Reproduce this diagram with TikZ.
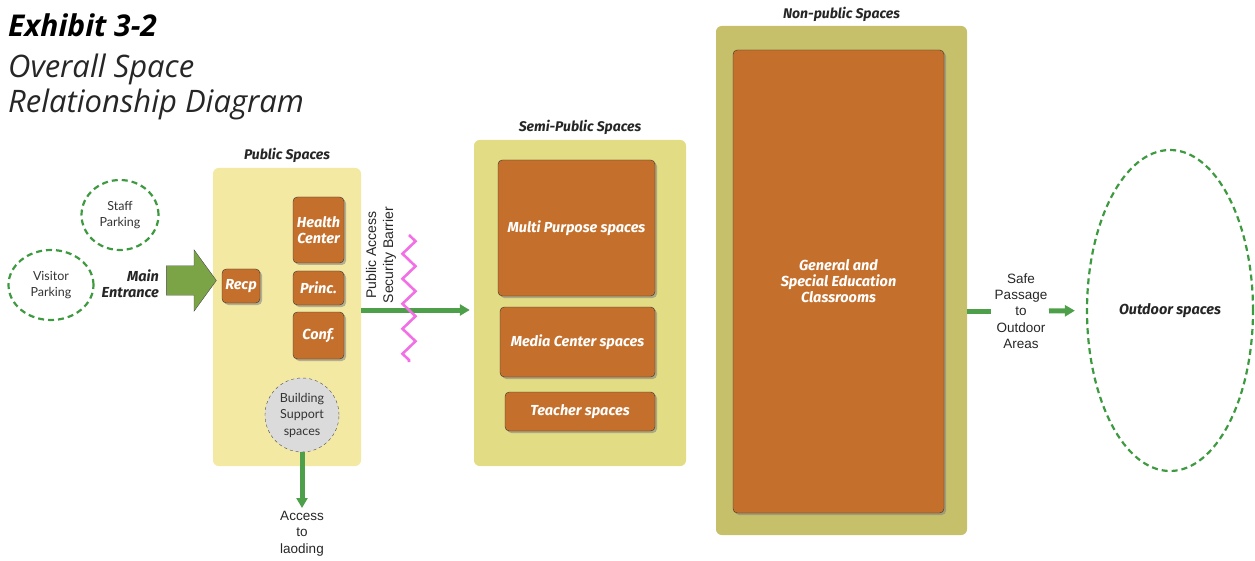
\documentclass[tikz,border=0pt]{standalone}
\usepackage{fontspec}
\setmainfont{Liberation Sans}
\newfontfamily\tagfont{Fira Sans}
\newfontfamily\softfont{Lato}
\newfontfamily\titlefont{Open Sans}
\usetikzlibrary{shapes,arrows.meta,positioning,shadows,decorations.pathmorphing}
\definecolor{ochre}{HTML}{C4702C}
\definecolor{pubfill}{HTML}{F3E9A3}
\definecolor{semifill}{HTML}{E2DC84}
\definecolor{nonfill}{HTML}{C6C06A}
\definecolor{walk}{HTML}{4E9F4A}
\definecolor{lot}{HTML}{3E9A40}
\definecolor{door}{HTML}{7BA446}
\definecolor{fence}{HTML}{F26FE6}
\tikzstyle{zone} = [fill,rounded corners=.2cm,inner sep=0]
\tikzstyle{room} = [draw=black!80,fill=ochre,rounded corners=.15cm,inner sep=0,text=white,align=center,
  font=\tagfont\bfseries\itshape\fontsize{14.5}{16}\selectfont,
  drop shadow={opacity=0.55,shadow xshift=2pt,shadow yshift=-2pt}]
\tikzstyle{caption} = [font=\tagfont\bfseries\itshape\fontsize{14}{16}\selectfont,text=black!85,inner sep=1pt]
\tikzstyle{lotspot} = [draw=lot,line width=2.2pt,dash pattern=on 6pt off 4pt,ellipse,inner sep=0,align=center,
  font=\softfont\fontsize{12.5}{16}\selectfont,text=black!80]
\tikzstyle{route} = [walk,line width=5pt]
\tikzstyle{note} = [font=\fontsize{13.5}{16.3}\selectfont,align=center,text=black!85,inner sep=0]

\begin{document}
\begin{tikzpicture}[x=1pt,y=-1pt]
  \useasboundingbox (0,0) rectangle (1255,561);
  % title
  \node[anchor=base west,inner sep=0,font=\titlefont\bfseries\itshape\fontsize{30}{30}\selectfont] (exhibit) at (8,37) {Exhibit 3-2};
  \node[anchor=base west,inner sep=0,font=\titlefont\itshape\fontsize{31}{31}\selectfont,text=black!85] (title1) at (8,78) {Overall Space};
  \node[anchor=base west,inner sep=0,font=\titlefont\itshape\fontsize{31}{31}\selectfont,text=black!85] (title2) at (8,113) {Relationship Diagram};

  % zones
  \node[zone,pubfill,minimum width=148,minimum height=298] (pub) at (287,317) {};
  \node[zone,semifill,minimum width=212,minimum height=326] (semi) at (580,303) {};
  \node[zone,nonfill,minimum width=251,minimum height=509] (nonpub) at (841.5,280.5) {};
  \node[caption,above=4pt of pub] {Public Spaces};
  \node[caption,above=4pt of semi] {Semi-Public Spaces};
  \node[caption,above=3pt of nonpub] {Non-public Spaces};

  % rooms
  \node[room,minimum width=38,minimum height=34] (recp) at (241,286) {Recp};
  \node[room,minimum width=51,minimum height=66] (health) at (318.5,230) {Health\\Center};
  \node[room,minimum width=51,minimum height=34] (princ) at (318.5,288) {Princ.};
  \node[room,minimum width=51,minimum height=47] (conf) at (318.5,335.5) {Conf.};
  \node[room,minimum width=157,minimum height=136] (multi) at (576.5,228) {Multi Purpose spaces};
  \node[room,minimum width=155,minimum height=70] (media) at (577.5,342) {Media Center spaces};
  \node[room,minimum width=150,minimum height=39] (teacher) at (580,411.5) {Teacher spaces};
  \node[room,minimum width=211,minimum height=463] (classes) at (838.5,281.5) {General and\\Special Education\\Classrooms};

  % outside
  \node[lotspot,minimum width=77,minimum height=70] (staff) at (120,215) {Staff\\Parking};
  \node[lotspot,minimum width=85,minimum height=70] (visitor) at (51,285) {Visitor\\Parking};
  \node[lotspot,minimum width=166,minimum height=321,font=\tagfont\bfseries\itshape\fontsize{14.5}{16}\selectfont,text=black!85] (outdoor) at (1170,310.5) {Outdoor spaces};
  \node[draw=black!70,dashed,fill=black!14,circle,minimum size=74,inner sep=0,align=center,
    font=\softfont\fontsize{12.5}{16.5}\selectfont,text=black!80] (support) at (302,415) {Building\\Support\\spaces};

  % entrance
  \node[single arrow,draw=black!70,fill=door,minimum height=50,inner xsep=0,inner ysep=14.5pt,
    single arrow head extend=16pt,single arrow tip angle=108] (entry) at (186,280.5) {};
  \node[anchor=east,align=right,inner sep=0,font=\tagfont\bfseries\itshape\fontsize{14.5}{16}\selectfont,text=black!85] (mainent) at (159,284) {Main\\Entrance};

  % public to semi-public
  \coordinate (barrier) at (409,310);
  \draw[route,-{Triangle[length=10pt,width=11pt]},shorten >=4pt] (pub.east |- barrier) -- (semi.west |- barrier);
  \draw[fence,line width=2.6pt,decorate,decoration={zigzag,segment length=25pt,amplitude=6.5pt}] (409,235) -- (409,362);
  \node[note,rotate=90,font=\fontsize{14}{17}\selectfont] (barriertxt) at (381,255) {Public Access\\Security Barrier};

  % loading
  \coordinate (dock) at (302,508);
  \draw[route,-{Triangle[length=10pt,width=11pt]}] (support.south) -- (dock);
  \node[note,below=3pt of dock] (loading) {Access\\to\\laoding};

  % outdoor
  \node[note] (safe) at (1021,311) {Safe\\Passage\\to\\Outdoor\\Areas};
  \draw[route] (nonpub.east |- safe) -- (991,311);
  \draw[route,-{Triangle[length=10pt,width=11pt]},shorten >=11pt] (1049,311) -- (outdoor.west);
\end{tikzpicture}
\end{document}
